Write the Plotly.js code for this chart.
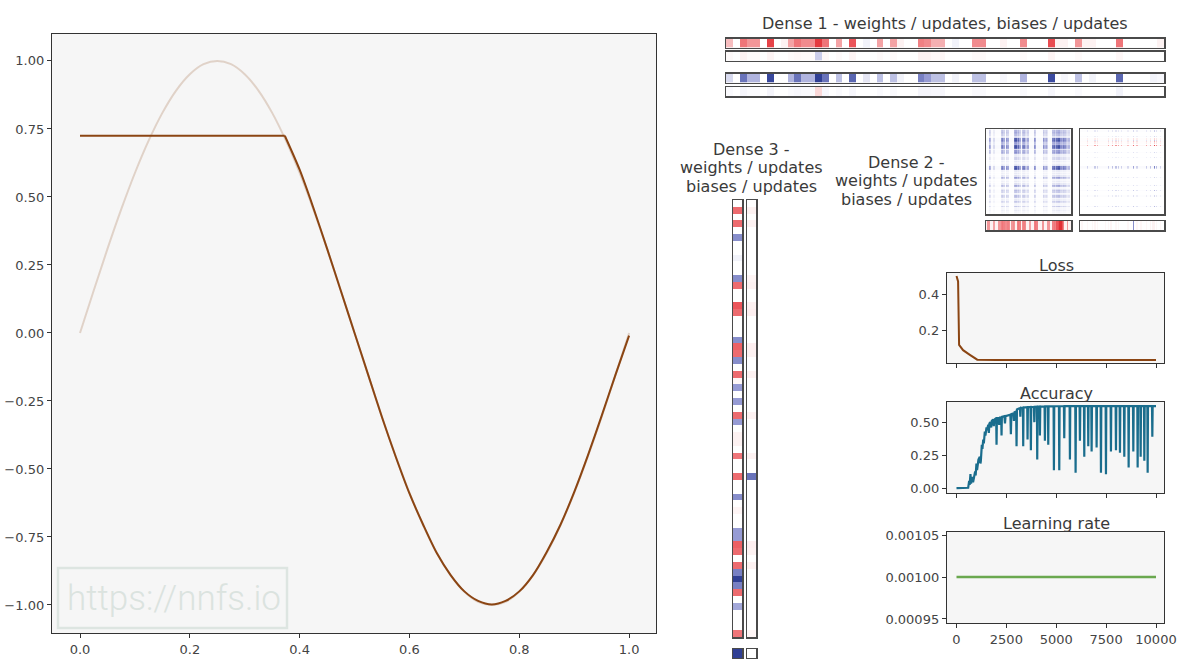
<!DOCTYPE html>
<html><head><meta charset="utf-8">
<script src="https://cdn.plot.ly/plotly-3.0.1.min.js"></script>
<style>html,body{margin:0;padding:0;background:#fff}#chart{width:1182px;height:659px}</style>
</head><body><div id="chart"></div>
<script>
// ---------------- data ----------------
const sineX = [0,0.025,0.05,0.075,0.1,0.125,0.15,0.175,0.2,0.225,0.25,0.275,0.3,0.325,0.35,0.375,0.4,0.425,0.45,0.475,0.5,
  0.525,0.55,0.575,0.6,0.625,0.65,0.675,0.7,0.725,0.75,0.775,0.8,0.825,0.85,0.875,0.9,0.925,0.95,0.975,1.0];
const sineY = [0,0.156,0.309,0.454,0.588,0.707,0.809,0.891,0.951,0.988,1.0,0.988,0.951,0.891,0.809,0.707,0.588,0.454,0.309,0.156,0,
  -0.156,-0.309,-0.454,-0.588,-0.707,-0.809,-0.891,-0.951,-0.988,-1.0,-0.988,-0.951,-0.891,-0.809,-0.707,-0.588,-0.454,-0.309,-0.156,0];
const predFlatX = [0,0.373];
const predFlatY = [0.725,0.725];
const predX = [0.373,0.4,0.425,0.45,0.475,0.5,0.525,0.55,0.575,0.6,0.625,0.65,0.675,0.7,0.725,0.75,0.775,0.8,0.825,0.85,0.875,0.9,0.925,0.95,0.975,1.0];
const predY = [0.725,0.60,0.46,0.31,0.155,0.0,-0.155,-0.31,-0.455,-0.59,-0.705,-0.81,-0.89,-0.95,-0.985,-0.998,-0.985,-0.95,-0.89,-0.805,-0.705,-0.585,-0.45,-0.305,-0.155,-0.01];
const mainXTicks = [0,0.2,0.4,0.6,0.8,1.0];
const mainYTicks = [-1,-0.75,-0.5,-0.25,0,0.25,0.5,0.75,1];

const epochTicks = [0,2500,5000,7500,10000];
const lossEpoch = [0,80,130,330,670,1040,2000,4000,6000,8000,10000];
const lossValue = [0.50,0.47,0.117,0.088,0.062,0.035,0.033,0.033,0.033,0.033,0.033];
const lossTicks = [0.2,0.4];

const accEpoch = [
  0,300,585,635,660,700,730,750,800,830,
  870,935,960,1000,1030,1050,1100,1170,1200,1220,
  1270,1300,1340,1370,1420,1450,1505,1530,1590,1620,
  1650,1700,1740,1770,1840,1870,1900,1990,2007,2025,
  2100,2140,2180,2240,2258,2275,2400,2430,2460,2600,
  2700,2726,2750,2850,2880,2910,2990,3010,3030,3100,
  3180,3200,3220,3330,3344,3360,3545,3562,3580,3710,
  3729,3745,3880,3900,3920,4030,4047,4065,4165,4181,
  4200,4415,4431,4450,4583,4599,4615,4867,4883,4900,
  5135,5151,5168,5385,5401,5418,5670,5686,5703,5954,
  5970,5987,6170,6187,6205,6390,6405,6420,6590,6605,
  6620,6757,6773,6790,7007,7023,7040,7225,7241,7258,
  7476,7492,7508,7726,7742,7758,7977,7993,8010,8178,
  8194,8210,8395,8411,8428,8613,8629,8645,8847,8863,
  8880,9064,9080,9097,9215,9231,9248,9399,9415,9432,
  9566,9582,9598,9800,9816,9832,10000];
const accValue = [
  0.005,0.006,0.008,0.06,0.03,0.11,0.04,0.07,0.09,0.05,
  0.08,0.13,0.10,0.19,0.14,0.17,0.22,0.24,0.19,0.21,
  0.33,0.30,0.37,0.34,0.43,0.40,0.46,0.44,0.48,0.42,
  0.49,0.50,0.46,0.51,0.52,0.47,0.52,0.53,0.33,0.53,
  0.53,0.48,0.535,0.535,0.40,0.54,0.545,0.49,0.545,0.55,
  0.555,0.41,0.56,0.565,0.51,0.575,0.58,0.32,0.595,0.60,
  0.605,0.54,0.607,0.61,0.32,0.61,0.612,0.37,0.612,0.614,
  0.29,0.614,0.615,0.50,0.615,0.616,0.22,0.616,0.617,0.40,
  0.617,0.618,0.36,0.618,0.618,0.33,0.618,0.619,0.14,0.619,
  0.619,0.14,0.619,0.62,0.38,0.62,0.62,0.22,0.62,0.62,
  0.12,0.62,0.62,0.36,0.62,0.62,0.24,0.62,0.62,0.32,
  0.62,0.62,0.28,0.62,0.62,0.31,0.62,0.62,0.12,0.62,
  0.62,0.11,0.62,0.62,0.28,0.62,0.62,0.29,0.62,0.62,
  0.27,0.62,0.62,0.24,0.62,0.62,0.16,0.62,0.62,0.28,
  0.62,0.62,0.16,0.62,0.62,0.24,0.62,0.62,0.21,0.62,
  0.62,0.12,0.62,0.62,0.39,0.62,0.62];
const accTicks = [0,0.25,0.5];

const lrEpoch = [0,10000];
const lrValue = [0.001,0.001];
const lrTicks = [0.00095,0.001,0.00105];

// Dense 1 (1 x 64)
const dense1Weights = [
  0.25,0,0.55,0.4,0.4,0,0.8,0,
  0.05,0.35,0.55,0.45,0.45,0.85,0.55,0,
  0.35,0,0.7,0,-0.05,0,0.35,0,
  0.35,0.05,0,0,0.5,0.45,0.3,0.3,
  0,-0.05,0,0,0.45,0.45,0,0,
  0.05,0,0,0.45,0,0,0,0.75,
  0.05,0.05,0,0.4,0.05,0.05,0,0,
  0,0.55,0,0,0,0,0,0.05];
const dense1WeightUpdates = [
  0.02,0,0.05,0.02,0.02,0,0.04,0,
  0,0.02,0.03,0.02,0.02,-0.2,0.03,0,
  0.02,0,0.04,0,0,0,0.02,0,
  0.02,0,0,0,0.05,0.05,0.03,0.03,
  0,0,0,0,0.02,0.02,0,0,
  0,0,0,0.02,0,0,0,0.04,
  0,0,0,0.02,0,0,0,0,
  0,0.03,0,0,0,0,0,0];
const dense1Biases = [
  -0.15,0,-0.55,-0.3,-0.3,0,-0.75,0,
  0,-0.3,-0.55,-0.3,-0.3,-0.85,-0.55,0,
  -0.25,0,-0.6,0,-0.1,0,-0.25,0,
  -0.25,-0.05,0,0,-0.5,-0.4,-0.25,-0.25,
  0,-0.05,0,0,-0.25,-0.25,0,0,
  -0.03,0,0,-0.3,0,0,0,-0.7,
  0,-0.03,0,-0.25,0,-0.05,0,0,
  0,-0.6,0,0,0,0,-0.05,-0.03];
const dense1BiasUpdates = [
  -0.02,0,-0.04,-0.02,-0.02,0,-0.04,0,
  0,-0.02,-0.03,-0.02,-0.02,0.15,-0.03,0,
  -0.02,0,-0.03,0,0,0,-0.02,0,
  -0.02,0,0,0,-0.04,-0.04,-0.03,-0.03,
  0,0,0,0,-0.02,-0.02,0,0,
  0,0,0,-0.02,0,0,0,-0.03,
  0,0,0,-0.02,0,0,0,0,
  0,-0.05,0,0,0,0,0,0];

// Dense 2 (64 x 64) read as row and column intensity profiles
const dense2RowWeights = [
  0.1,0.35,0.4,0.35,0.3,0.15,0.2,0.7,
  0.75,0.65,0.45,0.4,0.7,0.75,0.65,0.2,
  0.45,0.5,0.4,0.1,0.1,0.2,0.2,0.05,
  0.1,0.05,0.1,0.15,0.7,0.75,0.65,0.1,
  0.05,0.1,0.05,0.15,0.45,0.35,0.05,0.1,
  0.05,0.15,0.4,0.35,0.05,0.15,0.3,0.25,
  0.05,0.1,0.3,0.25,0.05,0.1,0.25,0.2,
  0.05,0.05,0.25,0.05,0.05,0.1,0.05,0.03];
const dense2ColWeights = [
  0.03,0.03,0.5,0.4,0.03,0.2,0.2,0.03,
  0.03,0.03,0.03,0.6,0.7,0.5,0.03,0.6,
  0.5,0.03,0.03,0.03,0.03,0.8,0.9,0.6,
  0.8,0.5,0.03,0.6,0.7,0.4,0.3,0.5,
  0.03,0.03,0.03,0.03,0.6,0.5,0.03,0.03,
  0.03,0.03,0.03,0.6,0.4,0.5,0.3,0.03,
  0.03,0.03,0.7,0.8,0.5,0.8,0.9,0.9,
  0.6,0.5,0.7,0.6,0.4,0.3,0.4,0.03];
const dense2RowUpdates = [
  0,-0.25,0,0,0,-0.2,0,0.2,
  -0.3,0.4,0.2,0,1.0,0,0,0,
  0,-0.2,0,0,0,-0.15,0,0,
  0,0,0,0,-0.6,-0.4,0,0,
  0,0,0,0,-0.2,0,0,0,
  0,0,-0.2,0,0,0,-0.35,0,
  0,0,-0.2,0,0,0,0,0,
  0,0,-0.35,0,0,0,0,0];
const dense2ColUpdates = [
  0.03,0.03,0.03,0.03,0.03,0.3,0.03,0.03,
  0.03,0.03,0.03,0.35,0.03,0.3,0.03,0.03,
  0.03,0.03,0.03,0.03,0.03,0.35,0.03,0.03,
  0.4,0.03,0.03,0.4,0.03,0.35,0.03,0.3,
  0.03,0.03,0.03,0.03,0.25,0.03,0.03,0.03,
  0.6,0.03,0.03,0.3,0.03,0.03,0.03,0.03,
  0.03,0.03,0.35,0.03,0.03,0.4,0.03,0.03,
  0.8,0.03,0.45,0.03,0.03,0.3,0.03,0.03];
const dense2Biases = [
  0.05,0.4,0.4,0.05,0.05,0.35,0.35,0.05,
  0.05,0.4,0.4,0.5,0.55,0.5,0.45,0.45,
  0.5,0.45,0.05,0.4,0.45,0.4,0.05,0.5,
  0.55,0.5,0.05,0.45,0.5,0.45,0.05,0.05,
  0.35,0.35,0.05,0.05,0.5,0.55,0.5,0.05,
  0.05,0.05,0.4,0.4,0.05,0.05,0.4,0.4,
  0.05,0.05,0.5,0.55,0.5,0.7,0.75,0.9,
  0.9,0.7,0.5,0.05,0.05,0.4,0.05,0.05];
const dense2BiasUpdates = [
  0,0.03,0,0,0,0.03,0,0,
  0,0.03,0,0.04,0,0.03,0,0,
  0,0,0,0.03,0,0.03,0,0.04,
  0,0,0,0.03,0,0.03,0,0,
  0,0,0,0,0.03,0,0,0,
  -0.45,0,0,0.03,0,0,0.03,0,
  0,0,0.03,0,0,0.04,0,0.05,
  0.05,0,0.03,0,0,0.03,0,0];

// Dense 3 (64 x 1)
const dense3Weights = [
  0,0.6,0,0.6,0,-0.45,0,0,
  -0.05,0,0,-0.45,0.6,0,0,0.7,
  0.6,0,0,0,-0.45,0.65,0.6,-0.45,
  0,0.6,0.03,-0.4,0,-0.4,0,0.6,
  -0.4,0,0.05,0.05,0,0.55,0,0,
  0.6,0,0,-0.45,0,0.04,0,0,
  -0.4,-0.4,0.65,0.6,0,0.6,-0.5,-0.85,
  -0.5,0.6,0,-0.35,0,0,0,0.55];
const dense3WeightUpdates = [
  0,0.05,0,0.05,0,0,0,0,
  0,0,0,0.04,0.05,0,0,0.05,
  0.06,0,0,0,0,0.06,0.05,0,
  0,0.05,0,0,0,0,0,0.05,
  0,0,0,0,0,0.05,0,0,
  -0.55,0,0,0,0,0,0,0,
  0,0,0.06,0.05,0,0.05,0,0,
  0,0,0,0,0,0,0,0.04];
const dense3Bias = [-0.85];
const dense3BiasUpdate = [0];

// ---------------- figure ----------------
const W = 1182, H = 659;
const CS = [[0,'rgb(35,50,135)'],[0.15,'rgb(60,75,160)'],[0.3,'rgb(150,155,212)'],[0.5,'rgb(255,255,255)'],
            [0.7,'rgb(242,150,152)'],[0.85,'rgb(235,85,90)'],[1,'rgb(220,30,35)']];
const TXT = '#3a3a3a';
function dom(x0, x1, y0, y1) { return {x: [x0 / W, x1 / W], y: [1 - y1 / H, 1 - y0 / H]}; }

const traces = [];
const layout = {
  width: W, height: H, margin: {l: 0, r: 0, t: 0, b: 0},
  paper_bgcolor: '#ffffff', plot_bgcolor: '#f6f6f6', showlegend: false,
  font: {family: 'DejaVu Sans', color: '#444', size: 13},
  annotations: [], shapes: []
};
let axCount = 0;
function baseAx() {
  return {showgrid: false, zeroline: false, showline: true, mirror: true, linecolor: '#333', linewidth: 1.2,
          ticks: '', showticklabels: false, fixedrange: true};
}
function addAxes(box, xopt, yopt) {
  axCount++;
  const n = axCount === 1 ? '' : String(axCount);
  const d = dom(box[0], box[1], box[2], box[3]);
  layout['xaxis' + n] = Object.assign(baseAx(), {domain: d.x, anchor: 'y' + n}, xopt);
  layout['yaxis' + n] = Object.assign(baseAx(), {domain: d.y, anchor: 'x' + n}, yopt);
  return {xaxis: 'x' + n, yaxis: 'y' + n};
}
function addHeat(box, z, reversedY) {
  const rows = z.length, cols = z[0].length;
  const ax = addAxes(box,
    {range: [-0.5, cols - 0.5], linewidth: 1.5, linecolor: '#4a4a4a'},
    {range: reversedY ? [rows - 0.5, -0.5] : [-0.5, rows - 0.5], linewidth: 1.5, linecolor: '#4a4a4a'});
  traces.push(Object.assign({type: 'heatmap', z: z, zmin: -1, zmax: 1, colorscale: CS, showscale: false, hoverinfo: 'skip'}, ax));
}
function title(text, px, py, size) {
  layout.annotations.push({text: text, x: px / W, y: 1 - py / H, xref: 'paper', yref: 'paper',
    xanchor: 'center', yanchor: 'middle', showarrow: false, font: {size: size || 16, color: TXT, family: 'DejaVu Sans'}});
}
const tickStyle = {ticks: 'outside', ticklen: 4, tickwidth: 1, tickcolor: '#333', showticklabels: true,
                   tickfont: {size: 13, color: '#444'}};

// main chart
const axMain = addAxes([52, 656, 34, 633],
  Object.assign({}, tickStyle, {range: [-0.051, 1.049], tickvals: mainXTicks, tickformat: '.1f'}),
  Object.assign({}, tickStyle, {range: [-1.103, 1.099], tickvals: mainYTicks, tickformat: '.2f'}));
traces.push(Object.assign({type: 'scatter', mode: 'lines', x: sineX, y: sineY, line: {color: 'rgba(139,69,19,0.2)', width: 2, shape: 'spline'}, hoverinfo: 'skip'}, axMain));
traces.push(Object.assign({type: 'scatter', mode: 'lines', x: predFlatX, y: predFlatY, line: {color: '#8B4513', width: 2}, hoverinfo: 'skip'}, axMain));
traces.push(Object.assign({type: 'scatter', mode: 'lines', x: predX, y: predY, line: {color: '#8B4513', width: 2, shape: 'spline', smoothing: 0.8}, hoverinfo: 'skip'}, axMain));

// Dense 1
addHeat([726, 1164, 38.5, 47.5], [dense1Weights]);
addHeat([726, 1164, 51.5, 60.5], [dense1WeightUpdates]);
addHeat([726, 1164, 73.5, 82.5], [dense1Biases]);
addHeat([726, 1164, 87, 96], [dense1BiasUpdates]);
title('Dense 1 - weights / updates, biases / updates', 945, 24);

// Dense 2
const dense2W = dense2RowWeights.map(r => dense2ColWeights.map(c => -r * c));
const dense2U = dense2RowUpdates.map(r => dense2ColUpdates.map(c => r * c));
addHeat([986, 1071, 129, 214], dense2W, true);
addHeat([1080, 1164, 129, 214], dense2U, true);
addHeat([986, 1071, 221, 230], [dense2Biases]);
addHeat([1080, 1164, 221, 230], [dense2BiasUpdates]);
title('Dense 2 -', 906, 163);
title('weights / updates', 906, 181);
title('biases / updates', 906, 199);

// Dense 3
addHeat([733, 742, 200, 637], dense3Weights.map(v => [v]), true);
addHeat([747, 756, 200, 637], dense3WeightUpdates.map(v => [v]), true);
addHeat([733, 742, 649, 658], [dense3Bias]);
addHeat([747, 756, 649, 658], [dense3BiasUpdate]);
title('Dense 3 -', 751, 150);
title('weights / updates', 751, 168);
title('biases / updates', 751, 186);

// Loss
const xr = [-476, 10401];
const axLoss = addAxes([947, 1164, 273, 363],
  Object.assign({}, tickStyle, {range: xr, tickvals: epochTicks, showticklabels: false}),
  Object.assign({}, tickStyle, {range: [0.0167, 0.5167], tickvals: lossTicks, tickformat: '.1f'}));
traces.push(Object.assign({type: 'scatter', mode: 'lines', x: lossEpoch, y: lossValue, line: {color: '#8B4513', width: 2}, hoverinfo: 'skip'}, axLoss));
title('Loss', 1056, 265);

// Accuracy
const axAcc = addAxes([947, 1164, 402, 493],
  Object.assign({}, tickStyle, {range: xr, tickvals: epochTicks, showticklabels: false}),
  Object.assign({}, tickStyle, {range: [-0.031, 0.651], tickvals: accTicks, tickformat: '.2f'}));
traces.push(Object.assign({type: 'scatter', mode: 'lines', x: accEpoch, y: accValue, line: {color: '#1a6d8d', width: 2.2}, hoverinfo: 'skip'}, axAcc));
title('Accuracy', 1056, 393);

// Learning rate
const axLr = addAxes([947, 1164, 532, 623],
  Object.assign({}, tickStyle, {range: xr, tickvals: epochTicks, tickformat: 'd'}),
  Object.assign({}, tickStyle, {range: [0.0009452, 0.0010536], tickvals: lrTicks, tickformat: '.5f'}));
traces.push(Object.assign({type: 'scatter', mode: 'lines', x: lrEpoch, y: lrValue, line: {color: '#6aa84f', width: 2.5}, hoverinfo: 'skip'}, axLr));
title('Learning rate', 1056, 523);

// watermark
layout.shapes.push({type: 'rect', xref: 'paper', yref: 'paper', x0: 58 / W, x1: 287 / W, y0: 1 - 628 / H, y1: 1 - 568 / H,
  line: {color: '#dde5e1', width: 2.5}, fillcolor: 'rgba(0,0,0,0)'});
layout.annotations.push({text: 'https://nnfs.io', x: 174 / W, y: 1 - 598 / H, xref: 'paper', yref: 'paper',
  xanchor: 'center', yanchor: 'middle', showarrow: false,
  font: {size: 35, color: '#dbe3df', family: 'Roboto, sans-serif', weight: 300}});

Plotly.newPlot('chart', traces, layout, {staticPlot: true, displayModeBar: false});
</script></body></html>
